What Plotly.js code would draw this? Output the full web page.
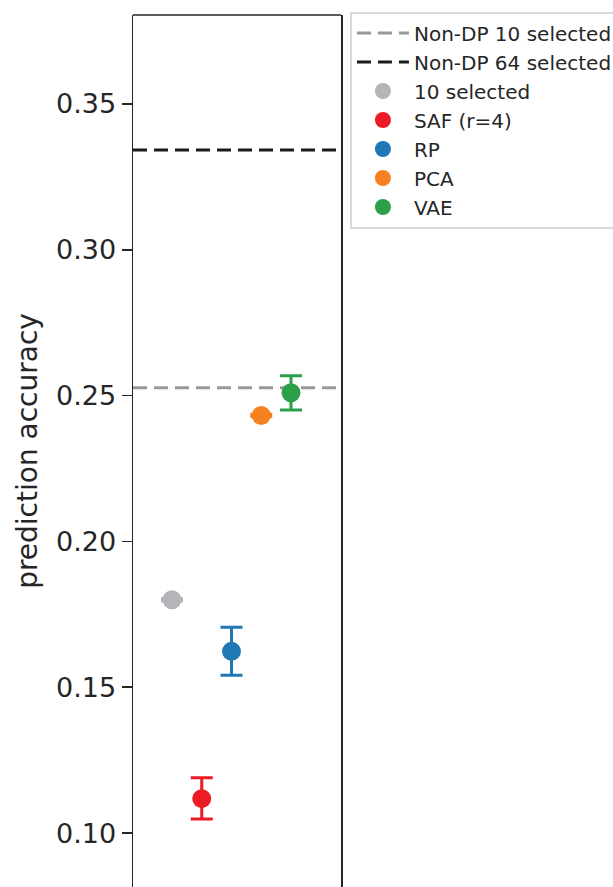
<!DOCTYPE html>
<html>
<head>
<meta charset="utf-8">
<script src="https://cdn.plot.ly/plotly-3.0.1.min.js"></script>
<style>html,body{margin:0;padding:0;background:#fff;overflow:hidden}</style>
</head>
<body>
<div id="chart" style="width:613px;height:887px"></div>
<script>
// ---- data ----
const methods = ["10 selected", "SAF (r=4)", "RP", "PCA", "VAE"];
const positions = [0, 1, 2, 3, 4];
const accuracy = [0.1800, 0.1118, 0.1623, 0.2432, 0.2510];
const errPlus = [0.0004, 0.0072, 0.0083, 0.0004, 0.0058];
const errMinus = [0.0004, 0.0070, 0.0082, 0.0004, 0.0059];
const colors = ["#b4b5b9", "#ec1c24", "#1f77b4", "#f5821f", "#2ca048"];
const refNames = ["Non-DP 10 selected", "Non-DP 64 selected"];
const refValues = [0.2527, 0.3342];
const refColors = ["#999999", "#1a1a1a"];
const xRange = [-1.31, 5.68];
const yRange = [0.0815, 0.3805];
const yTicks = [0.10, 0.15, 0.20, 0.25, 0.30, 0.35];

const traces = [];
refNames.forEach((n, i) => {
  traces.push({
    type: "scatter", mode: "lines", name: n,
    x: xRange, y: [refValues[i], refValues[i]],
    line: {color: refColors[i], width: 3, dash: "14px,7px"},
    hoverinfo: "skip"
  });
});
methods.forEach((m, i) => {
  traces.push({
    type: "scatter", mode: "markers", name: m,
    x: [positions[i]], y: [accuracy[i]],
    marker: {color: colors[i], size: 19},
    error_y: {type: "data", symmetric: false, array: [errPlus[i]], arrayminus: [errMinus[i]],
              color: colors[i], thickness: 3, width: 11}
  });
});

const layout = {
  width: 613, height: 887,
  margin: {l: 133, r: 272, t: 15, b: 0, autoexpand: false},
  paper_bgcolor: "#fff", plot_bgcolor: "#fff",
  font: {family: "DejaVu Sans", color: "#262626"},
  showlegend: true,
  legend: {
    x: 1.043, y: 1.004, xanchor: "left", yanchor: "top",
    bgcolor: "#fff", bordercolor: "#d9d9d9", borderwidth: 2,
    font: {size: 20, color: "#262626", family: "DejaVu Sans"},
    itemwidth: 52, tracegroupgap: 0
  },
  xaxis: {range: xRange, showgrid: false, zeroline: false, showticklabels: false,
          ticks: "", showline: false, fixedrange: true},
  yaxis: {range: yRange, tickvals: yTicks, ticktext: yTicks.map(v => v.toFixed(2)),
          showgrid: false, zeroline: false, showline: true, mirror: true,
          linecolor: "#262626", linewidth: 1.5, ticks: "outside", ticklen: 10,
          tickwidth: 1.5, tickcolor: "#262626",
          tickfont: {size: 27, color: "#262626"},
          title: {text: "prediction accuracy", font: {size: 28, color: "#262626"}, standoff: 10}},
  shapes: [{type: "line", xref: "paper", yref: "paper", x0: 0, x1: 1, y0: 1, y1: 1,
            line: {color: "#262626", width: 1.5}}]
};
Plotly.newPlot("chart", traces, layout, {displayModeBar: false, staticPlot: true});
</script>
</body>
</html>
